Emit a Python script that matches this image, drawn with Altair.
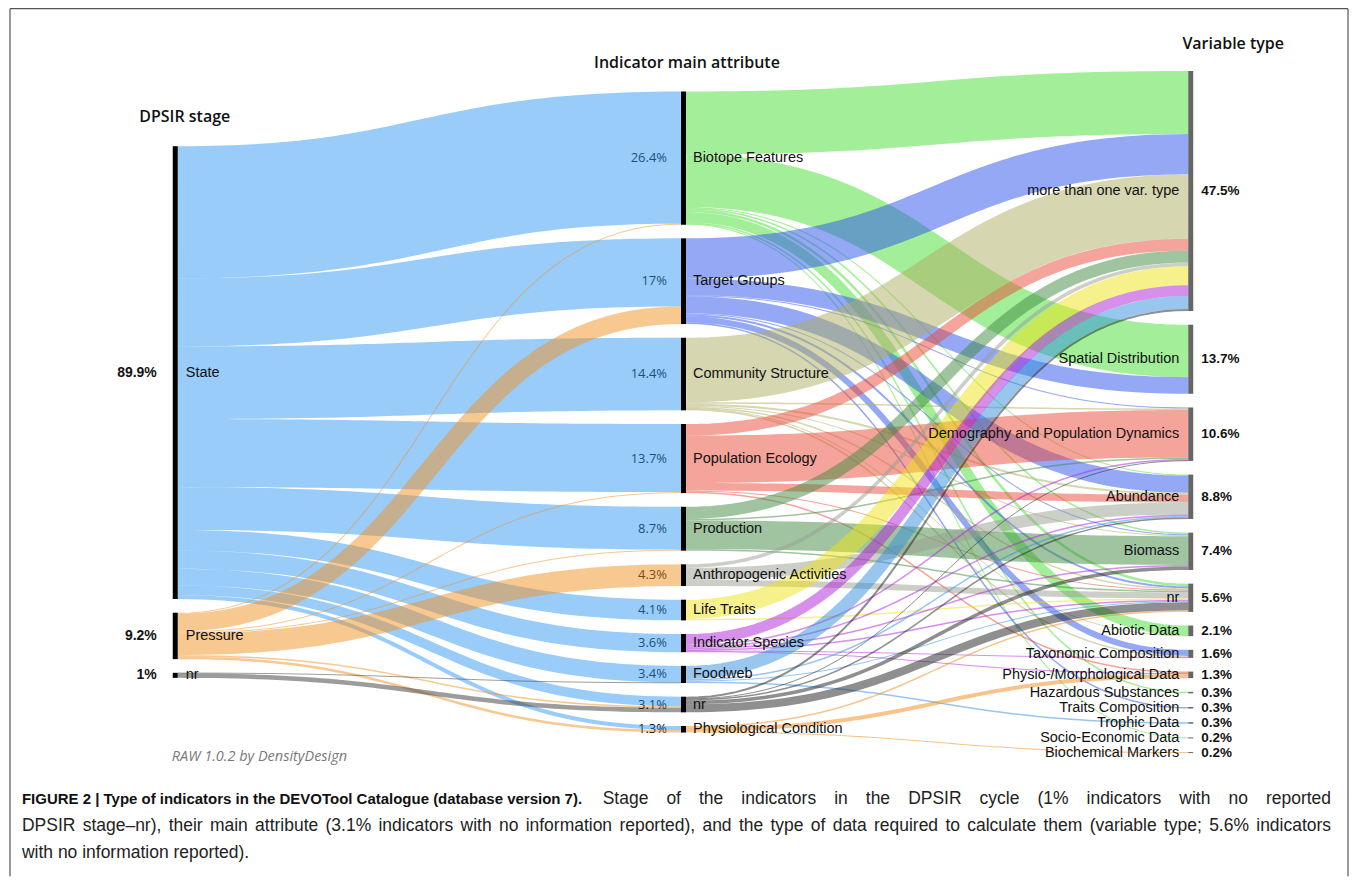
import altair as alt
import pandas as pd
import numpy as np

# ---------------- data ----------------
stage_names = ["State", "Pressure", "nr"]
stage_labels = ["89.9%", "9.2%", "1%"]

attr_names = ["Biotope Features", "Target Groups", "Community Structure", "Population Ecology",
              "Production", "Anthropogenic Activities", "Life Traits", "Indicator Species",
              "Foodweb", "nr", "Physiological Condition"]
attr_labels = ["26.4%", "17%", "14.4%", "13.7%", "8.7%", "4.3%", "4.1%", "3.6%", "3.4%", "3.1%", "1.3%"]

var_names = ["more than one var. type", "Spatial Distribution", "Demography and Population Dynamics",
             "Abundance", "Biomass", "nr", "Abiotic Data", "Taxonomic Composition",
             "Physio-/Morphological Data", "Hazardous Substances", "Traits Composition",
             "Trophic Data", "Socio-Economic Data", "Biochemical Markers"]
var_labels = ["47.5%", "13.7%", "10.6%", "8.8%", "7.4%", "5.6%", "2.1%", "1.6%", "1.3%",
              "0.3%", "0.3%", "0.3%", "0.2%", "0.2%"]

# flows DPSIR stage -> indicator main attribute (rows: stages, cols: attributes), in %
flow_state = [26.2, 13.5, 14.4, 13.5, 8.5, 0, 4.1, 3.6, 3.3, 1.9, 0.8]
flow_pressure = [0.2, 3.5, 0, 0.2, 0.2, 4.3, 0, 0, 0, 0.3, 0.5]
flow_stage_nr = [0, 0, 0, 0, 0, 0, 0, 0, 0.1, 0.9, 0]

# flows attribute -> variable type (rows: attributes, cols: variable types), in %
flow_biotope = [12.5, 10.4, 0, 0.2, 0.3, 0.5, 2.0, 0, 0, 0.3, 0, 0, 0.2, 0]
flow_target = [8.0, 3.3, 0.2, 3.4, 0.2, 0.4, 0, 1.2, 0, 0, 0.3, 0, 0, 0]
flow_community = [12.8, 0, 0.3, 0.4, 0.2, 0.3, 0.1, 0.3, 0, 0, 0, 0, 0, 0]
flow_popeco = [2.3, 0, 9.4, 1.5, 0, 0.2, 0, 0, 0.3, 0, 0, 0, 0, 0]
flow_production = [2.4, 0, 0.3, 0, 5.7, 0.3, 0, 0, 0, 0, 0, 0, 0, 0]
flow_anthropo = [0.7, 0, 0, 2.4, 0, 1.2, 0, 0, 0, 0, 0, 0, 0, 0]
flow_lifetraits = [3.8, 0, 0, 0, 0, 0.3, 0, 0, 0, 0, 0, 0, 0, 0]
flow_indicator = [2.1, 0, 0.3, 0.3, 0.3, 0.3, 0, 0.1, 0.2, 0, 0, 0, 0, 0]
flow_foodweb = [2.6, 0, 0, 0.3, 0, 0.2, 0, 0, 0, 0, 0, 0.3, 0, 0]
flow_attr_nr = [0.4, 0, 0.1, 0.3, 0.7, 1.6, 0, 0, 0, 0, 0, 0, 0, 0]
flow_physio = [0, 0, 0, 0, 0, 0.3, 0, 0, 0.8, 0, 0, 0, 0, 0.2]

headers_text = ["DPSIR stage", "Indicator main attribute", "Variable type"]
credit_text = "RAW 1.0.2 by DensityDesign"
caption_bold = "FIGURE 2 | Type of indicators in the DEVOTool Catalogue (database version 7)."
caption_lines = [
    "Stage of the indicators in the DPSIR cycle (1% indicators with no reported",
    "DPSIR stage\u2013nr), their main attribute (3.1% indicators with no information reported), "
    "and the type of data required to calculate them (variable type; 5.6% indicators",
    "with no information reported).",
]

# ---------------- styles ----------------
stage_colors = ["#3399F3", "#F19123", "#3A3A3A"]
attr_colors = ["#47DD31", "#2951EB", "#ADAD61", "#E94935", "#3F893F", "#999D91",
               "#EDE315", "#AD1FD5", "#318DDD", "#1F1F1F", "#F18919"]

W, H = 1340, 869
K = 5.05        # pixels per percent
GAP = 13.7      # gap between nodes
CY = 404        # vertical centre of columns
BAR_W = 5
COL_X = [163, 672, 1180]

F1 = np.array([flow_state, flow_pressure, flow_stage_nr], dtype=float)
F2 = np.array([flow_biotope, flow_target, flow_community, flow_popeco, flow_production,
               flow_anthropo, flow_lifetraits, flow_indicator, flow_foodweb, flow_attr_nr,
               flow_physio], dtype=float)

v1 = F1.sum(axis=1)
v2 = np.maximum(F1.sum(axis=0), F2.sum(axis=1))
v3 = F2.sum(axis=0)


def stack(vals):
    total = sum(vals) * K + GAP * (len(vals) - 1)
    y = CY - total / 2
    out = []
    for v in vals:
        h = v * K
        out.append((y, y + h))
        y += h + GAP
    return out


P1, P2, P3 = stack(v1), stack(v2), stack(v3)


def build_links(F, src_pos, tgt_pos, xa, xb, colors, tag):
    n_s, n_t = F.shape
    sy, ty = {}, {}
    for i in range(n_s):
        y = src_pos[i][0]
        for j in range(n_t):
            if F[i, j] > 0:
                w = F[i, j] * K
                sy[(i, j)] = y + w / 2
                y += w
    for j in range(n_t):
        y = tgt_pos[j][0]
        for i in range(n_s):
            if F[i, j] > 0:
                w = F[i, j] * K
                ty[(i, j)] = y + w / 2
                y += w
    ts = np.linspace(0, 1, 60)
    xm = (xa + xb) / 2
    rows = []
    for (i, j), y0 in sy.items():
        y1 = ty[(i, j)]
        w = max(1.0, F[i, j] * K)
        for n, t in enumerate(ts):
            a, b, c, d = (1 - t) ** 3, 3 * (1 - t) ** 2 * t, 3 * (1 - t) * t ** 2, t ** 3
            rows.append(dict(lid=f"{tag}{i:02d}-{j:02d}", t=n,
                             x=a * xa + (b + c) * xm + d * xb,
                             y=(a + b) * y0 + (c + d) * y1,
                             sw=w, c=colors[i]))
    return pd.DataFrame(rows)


links1 = build_links(F1, P1, P2, COL_X[0] + BAR_W, COL_X[1], stage_colors, "a")
links2 = build_links(F2, P2, P3, COL_X[1] + BAR_W, COL_X[2], attr_colors, "b")

node_rows = []
for ci, (names, pos, fill) in enumerate([(stage_names, P1, "#000000"),
                                         (attr_names, P2, "#000000"),
                                         (var_names, P3, "#666666")]):
    for nm, (y0, y1) in zip(names, pos):
        node_rows.append(dict(x=COL_X[ci], x2=COL_X[ci] + BAR_W, y=y0, y2=max(y1, y0 + 1),
                              name=nm, fill=fill))
nodes = pd.DataFrame(node_rows)

lab1 = pd.DataFrame(dict(name=stage_names, pct=stage_labels, ym=[(a + b) / 2 for a, b in P1],
                         xn=COL_X[0] + BAR_W + 8, xp=COL_X[0] - 16))
lab2 = pd.DataFrame(dict(name=attr_names, pct=attr_labels, ym=[(a + b) / 2 for a, b in P2],
                         xn=COL_X[1] + BAR_W + 7, xp=COL_X[1] - 14))
lab3 = pd.DataFrame(dict(name=var_names, pct=var_labels, ym=[(a + b) / 2 for a, b in P3],
                         xn=COL_X[2] - 9, xp=COL_X[2] + BAR_W + 8))

xs = alt.Scale(domain=[0, W], nice=False, zero=False)
ys = alt.Scale(domain=[0, H], reverse=True, nice=False, zero=False)

NAME_FONT = "Liberation Sans"
HEAD_FONT = "Open Sans"


def text_layer(df, xfield, field, align, font, size, weight="normal", color="#111111"):
    return alt.Chart(df).mark_text(align=align, baseline="middle", font=font, fontSize=size,
                                   fontWeight=weight, color=color).encode(
        x=alt.X(f"{xfield}:Q", scale=xs, axis=None),
        y=alt.Y("ym:Q", scale=ys, axis=None),
        text=f"{field}:N")


# percentage labels of the middle column sit under the flows
pct2 = text_layer(lab2, "xp", "pct", "right", HEAD_FONT, 13, "normal", "#000000")


def link_layer(df):
    return alt.Chart(df).mark_line(opacity=0.5, interpolate="linear", strokeCap="butt").encode(
        x=alt.X("x:Q", scale=xs, axis=None),
        y=alt.Y("y:Q", scale=ys, axis=None),
        detail="lid:N",
        order="t:Q",
        color=alt.Color("c:N", scale=None),
        strokeWidth=alt.StrokeWidth("sw:Q", scale=None),
    )


node_layer = alt.Chart(nodes).mark_rect().encode(
    x=alt.X("x:Q", scale=xs, axis=None), x2="x2:Q",
    y=alt.Y("y:Q", scale=ys, axis=None), y2="y2:Q",
    color=alt.Color("fill:N", scale=None),
)

names1 = text_layer(lab1, "xn", "name", "left", NAME_FONT, 14.5)
pct1 = text_layer(lab1, "xp", "pct", "right", NAME_FONT, 14, "bold")
names2 = text_layer(lab2, "xn", "name", "left", NAME_FONT, 14.5)
names3 = text_layer(lab3, "xn", "name", "right", NAME_FONT, 14.5)
pct3 = text_layer(lab3, "xp", "pct", "left", NAME_FONT, 13.5, "bold")

headers = alt.Chart(pd.DataFrame(dict(h=headers_text, hx=[175, 678, 1225], hy=[109, 54, 35]))).mark_text(
    align="center", baseline="middle", font=HEAD_FONT, fontSize=16, fontWeight=600, color="#111111"
).encode(x=alt.X("hx:Q", scale=xs, axis=None), y=alt.Y("hy:Q", scale=ys, axis=None), text="h:N")

credit = alt.Chart(pd.DataFrame(dict(t=[credit_text]))).mark_text(
    align="left", baseline="middle", font=HEAD_FONT, fontSize=14.5, fontStyle="italic", color="#7a7a7a"
).encode(x=alt.value(162), y=alt.value(749), text="t:N")

# ---------------- justified caption (Arial / Liberation Sans metrics) ----------------
_REG = dict(zip(" ()%.,;|-/\u2013", [278, 333, 333, 889, 278, 278, 278, 260, 333, 278, 556]))
_REG.update({c: 556 for c in "0123456789"})
_REG.update(dict(zip("abcdefghijklmnopqrstuvwxyz",
                     [556, 556, 500, 556, 556, 278, 556, 556, 222, 222, 500, 222, 833, 556, 556,
                      556, 556, 333, 500, 278, 556, 500, 722, 500, 500, 500])))
_UP = dict(zip("ABCDEFGHIJKLMNOPQRSTUVWXYZ",
               [667, 667, 722, 722, 667, 611, 778, 722, 278, 500, 667, 556, 833, 722, 778, 667,
                778, 722, 667, 611, 722, 667, 944, 667, 667, 611]))
_REG.update(_UP)
_BOLD = dict(_REG)
_BOLD.update(dict(zip("abcdefghijklmnopqrstuvwxyz",
                      [556, 611, 556, 611, 556, 333, 611, 611, 278, 278, 556, 278, 889, 611, 611,
                       611, 611, 389, 556, 333, 611, 556, 778, 556, 556, 500])))
_BOLD.update({"|": 280})
_BOLD.update({"B": 722, "K": 722, "J": 556, "L": 611})


def text_w(s, size, table):
    return sum(table.get(ch, 556) for ch in s) / 1000 * size


CAP_SIZE = 17.5
BOLD_SIZE = 15
CAP_LEFT, CAP_RIGHT = 12, 1323
CAP_Y = [792, 819, 846]

bold_w = text_w(caption_bold, BOLD_SIZE, _BOLD)
word_rows = []
for li, line in enumerate(caption_lines):
    words = line.split(" ")
    widths = [text_w(w_, CAP_SIZE, _REG) for w_ in words]
    if li == 0:
        start = CAP_LEFT + bold_w
        gap = (CAP_RIGHT - start - sum(widths)) / len(words)
        x = start + gap
    elif li == 1:
        start = CAP_LEFT
        gap = (CAP_RIGHT - start - sum(widths)) / (len(words) - 1)
        x = start
    else:
        gap = text_w(" ", CAP_SIZE, _REG)
        x = CAP_LEFT
    for w_, wd in zip(words, widths):
        word_rows.append(dict(t=w_, cx=x, cy=CAP_Y[li]))
        x += wd + gap
cap_words = pd.DataFrame(word_rows)

cap_bold = alt.Chart(pd.DataFrame(dict(t=[caption_bold]))).mark_text(
    align="left", baseline="middle", font="Liberation Sans", fontSize=BOLD_SIZE, fontWeight="bold",
    color="#111111"
).encode(x=alt.value(CAP_LEFT), y=alt.value(CAP_Y[0]), text="t:N")

cap_reg = alt.Chart(cap_words).mark_text(
    align="left", baseline="middle", font="Liberation Sans", fontSize=CAP_SIZE, color="#222222"
).encode(x=alt.X("cx:Q", scale=xs, axis=None), y=alt.Y("cy:Q", scale=ys, axis=None), text="t:N")

frame = alt.Chart(pd.DataFrame(dict(fx=[0, 0, W], fy=[0, 0, 0], fx2=[W, 0, W], fy2=[0, H, H]))).mark_rule(
    color="#555555", strokeWidth=1.2
).encode(x=alt.X("fx:Q", scale=xs, axis=None), x2="fx2:Q",
         y=alt.Y("fy:Q", scale=ys, axis=None), y2="fy2:Q")

chart = alt.layer(
    pct2, link_layer(links1), link_layer(links2), node_layer,
    names1, pct1, names2, names3, pct3, headers, credit, cap_bold, cap_reg, frame
).properties(
    width=W, height=H,
    padding={"left": 2, "top": 0, "right": 2, "bottom": 0},
    autosize=alt.AutoSizeParams(type="none"),
).configure_view(stroke=None)

chart.save("out.html", embed_options={"renderer": "svg", "actions": False})
